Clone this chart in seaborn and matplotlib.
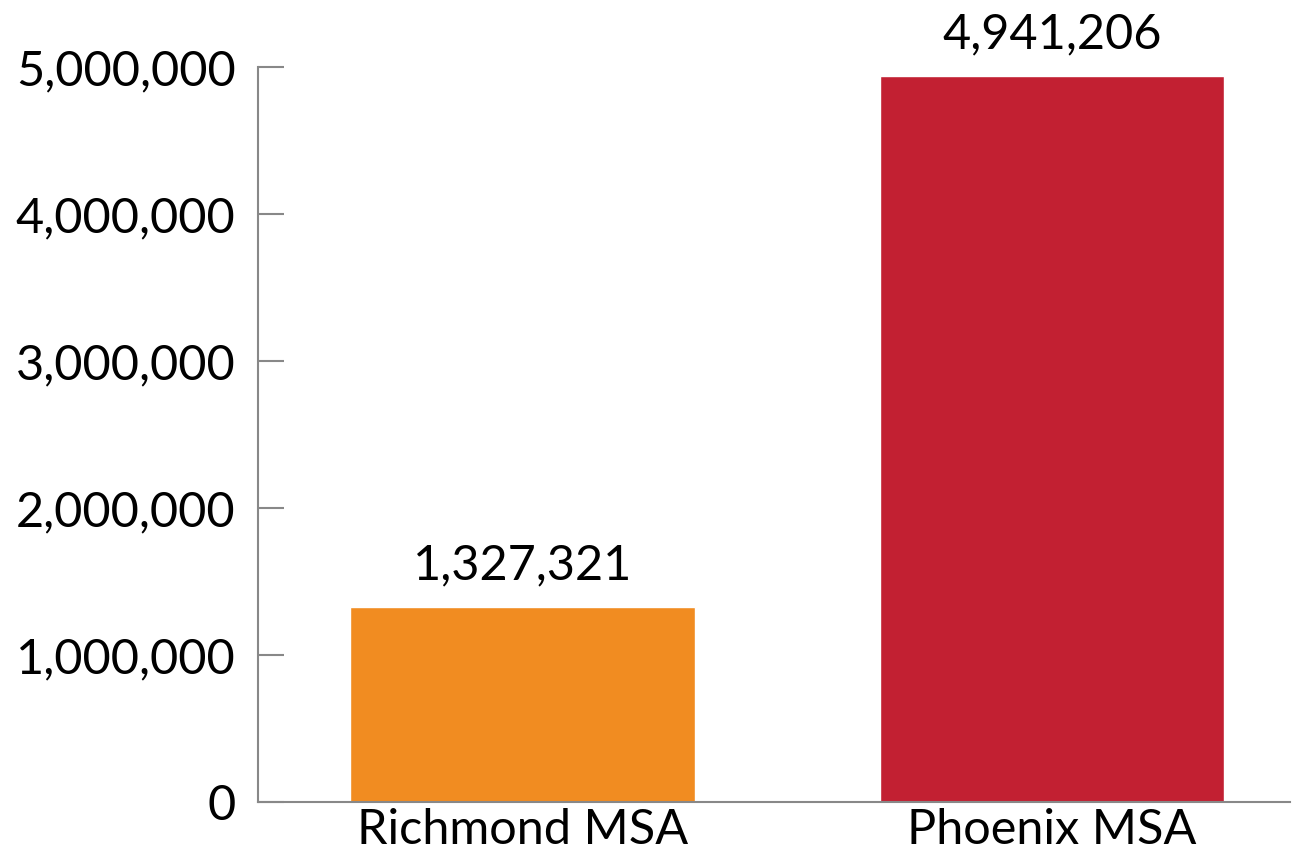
import matplotlib
matplotlib.use("Agg")
import matplotlib.pyplot as plt
import seaborn as sns
import pandas as pd

categories = ["Richmond MSA", "Phoenix MSA"]
values = [1327321, 4941206]
colors = ["#F18C21", "#C22032"]
y_ticks = [0, 1000000, 2000000, 3000000, 4000000, 5000000]

sns.set_style("white")
plt.rcParams['font.family'] = ['Lato', 'DejaVu Sans']

df = pd.DataFrame({"region": categories, "pop": values})

fig = plt.figure(figsize=(13.02, 8.56), dpi=100)
ax = fig.add_axes([0.198, 0.0631, 0.793, 0.8586])

sns.barplot(data=df, x="region", y="pop", hue="region", palette=colors,
            width=0.65, saturation=1, legend=False, ax=ax)

ax.set_xlim(-0.5, 1.45)
ax.set_ylim(0, 5000000)
ax.set_yticks(y_ticks)
ax.set_yticklabels([f"{v:,}" for v in y_ticks])
ax.tick_params(axis='y', left=True, direction='in', length=19, width=1.5,
               color='#888888', pad=16, labelsize=35, labelcolor='black')
ax.tick_params(axis='x', bottom=False, length=0, labelsize=35, pad=4,
               labelcolor='black')
ax.set_xlabel("")
ax.set_ylabel("")

for s in ['top', 'right']:
    ax.spines[s].set_visible(False)
for s in ['left', 'bottom']:
    ax.spines[s].set_color('#888888')
    ax.spines[s].set_linewidth(1.5)

for i, v in enumerate(values):
    ax.text(i, v + 185000, f"{v:,}", ha='center', va='baseline', fontsize=35,
            color='black', clip_on=False)

fig.savefig("out.png", dpi=100)
plt.close(fig)
